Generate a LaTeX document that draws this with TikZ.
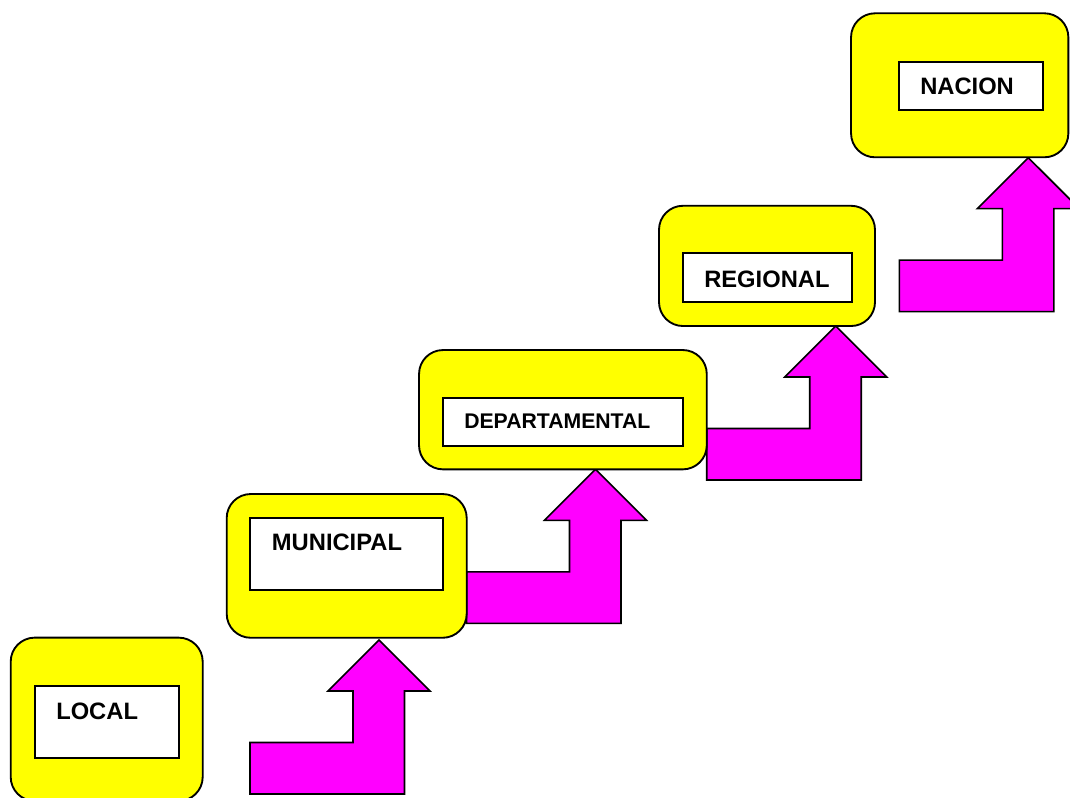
\documentclass[tikz,border=0pt]{standalone}
\usepackage{fontspec}
\setmainfont{Liberation Sans}
\usetikzlibrary{positioning}
\definecolor{boxyellow}{RGB}{255,255,0}
\definecolor{upmagenta}{RGB}{255,0,255}

\tikzset{
  levelbox/.style={draw, fill=boxyellow, line width=1.4pt, rounded corners=18pt, inner sep=0pt},
  namebox/.style={draw, fill=white, line width=1.4pt, inner sep=0pt},
  levelname/.style={anchor=west, inner sep=0pt, font=\bfseries\fontsize{17.8}{20}\selectfont},
  upbox/.style={draw, fill=upmagenta, line width=1.2pt, line join=miter},
  stepup/.pic={\draw[upbox] (0,0) -- (0,-51.5) -- (103,-51.5) -- (103,-103) -- (78,-103) -- (129,-154) -- (180,-103) -- (154.5,-103) -- (154.5,0) -- cycle;}
}

\begin{document}
\begin{tikzpicture}[x=0.75pt, y=-0.75pt]
  \clip (0,0) rectangle (1070,798);
  \coordinate (up1) at (250,794);
  \coordinate (up2) at (466.5,623.3);
  \coordinate (up3) at (706.7,480);
  \coordinate (up4) at (899.3,311.7);
  \pic at (up1) {stepup};
  \pic at (up2) {stepup};
  \pic at (up3) {stepup};
  \pic at (up4) {stepup};

  \node[levelbox, minimum width=144pt, minimum height=122.5pt] (local) at (106.7,719.3) {};
  \node[namebox, minimum width=108pt, minimum height=54pt] (localin) at (107,721.7) {};
  \node[levelname] (localtxt) at (56,711) {LOCAL};

  \node[levelbox, minimum width=180pt, minimum height=107.8pt] (muni) at (346.7,565.9) {};
  \node[namebox, minimum width=144.8pt, minimum height=54.2pt] (muniin) at (346.5,553.9) {};
  \node[levelname] (munitxt) at (271.7,542) {MUNICIPAL};

  \node[levelbox, minimum width=215.8pt, minimum height=89.5pt] (depto) at (562.9,409.7) {};
  \node[namebox, minimum width=180.5pt, minimum height=36.2pt] (deptoin) at (563,421.9) {};
  \node[levelname, font=\bfseries\fontsize{15.9}{18}\selectfont] (deptotxt) at (464,421) {DEPARTAMENTAL};

  \node[levelbox, minimum width=162pt, minimum height=90.2pt] (region) at (767,265.9) {};
  \node[namebox, minimum width=126.8pt, minimum height=36.8pt] (regionin) at (767.2,277.8) {};
  \node[levelname] (regiontxt) at (704,279) {REGIONAL};

  \node[levelbox, minimum width=163pt, minimum height=108pt] (nacion) at (959.7,85.3) {};
  \node[namebox, minimum width=108.2pt, minimum height=36.2pt] (nacionin) at (971.2,85.9) {};
  \node[levelname] (naciontxt) at (920,86.7) {NACION};
\end{tikzpicture}
\end{document}
